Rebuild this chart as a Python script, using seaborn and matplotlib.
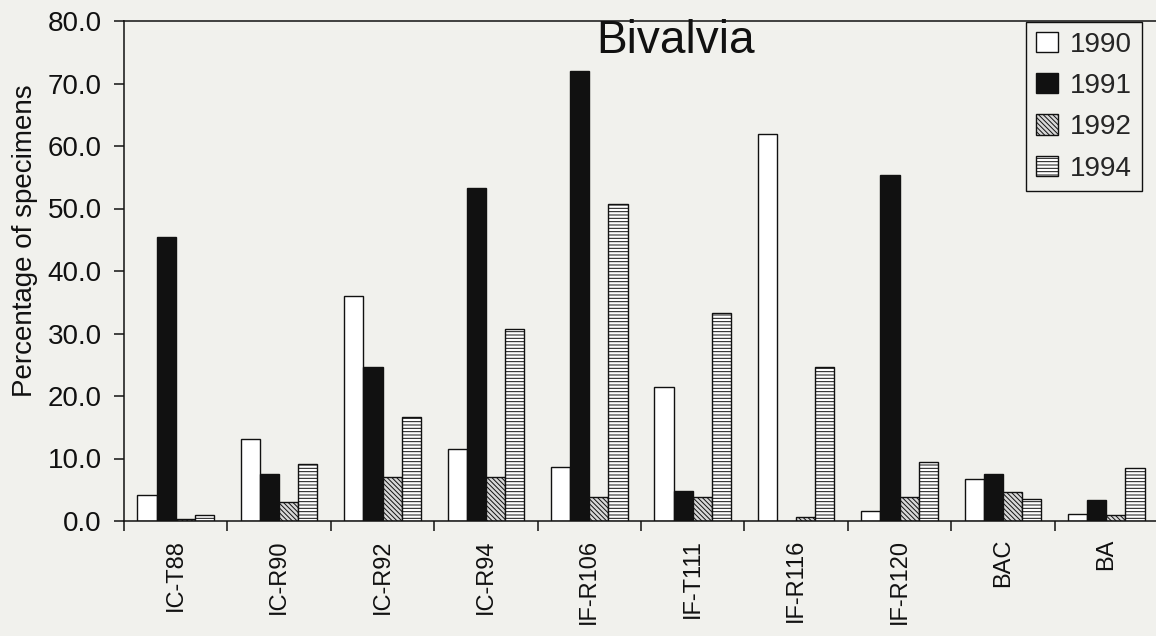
import numpy as np
import pandas as pd
import matplotlib
matplotlib.use("Agg")
import matplotlib.pyplot as plt
from matplotlib.patches import Patch
from matplotlib.ticker import FormatStrFormatter, FixedLocator
import seaborn as sns

# Sampling sites and survey years
sites = ["IC-T88", "IC-R90", "IC-R92", "IC-R94", "IF-R106",
         "IF-T111", "IF-R116", "IF-R120", "BAC", "BA"]
years = ["1990", "1991", "1992", "1994"]

# Percentage of bivalve specimens per site and year
pct_1990 = [4.2, 13.2, 36.0, 11.5, 8.6, 21.5, 61.9, 1.6, 6.8, 1.2]
pct_1991 = [45.4, 7.6, 24.7, 53.3, 72.0, 4.8, 0.0, 55.4, 7.6, 3.3]
pct_1992 = [0.4, 3.0, 7.0, 7.1, 3.9, 3.8, 0.7, 3.8, 4.6, 1.0]
pct_1994 = [1.0, 9.2, 16.7, 30.8, 50.7, 33.3, 24.7, 9.5, 3.6, 8.5]

df = pd.DataFrame({
    "site": sites * 4,
    "year": [y for y in years for _ in sites],
    "pct": pct_1990 + pct_1991 + pct_1992 + pct_1994,
})

paper = "#f1f1ed"
ink = "#111111"
sns.set_theme(style="ticks")
plt.rcParams["font.family"] = ["Liberation Sans", "DejaVu Sans"]
plt.rcParams["hatch.linewidth"] = 0.7
plt.rcParams["hatch.color"] = "#222222"

fills = {"1990": "white", "1991": ink, "1992": "#d8d8d8", "1994": "white"}
hatches = {"1990": "", "1991": "", "1992": "\\\\\\\\\\\\\\", "1994": "-----"}

fig = plt.figure(figsize=(11.56, 6.36), dpi=100, facecolor=paper)
ax = fig.add_axes([124 / 1156, 1 - 521 / 636, 1034 / 1156, 500 / 636])
ax.set_facecolor(paper)

sns.barplot(data=df, x="site", y="pct", hue="year", order=sites,
            hue_order=years, palette=fills, edgecolor=ink,
            linewidth=1.0, width=0.74, gap=0, dodge=True,
            saturation=1, legend=False, ax=ax)

for year, container in zip(years, ax.containers):
    for bar in container:
        bar.set_hatch(hatches[year])

ax.set_xlim(-0.5, len(sites) - 0.5)
ax.set_ylim(0, 80)
ax.set_yticks(np.arange(0, 81, 10))
ax.yaxis.set_major_formatter(FormatStrFormatter("%.1f"))
ax.tick_params(axis="y", direction="out", length=7, width=1.1,
               labelsize=20, pad=9, colors=ink)
ax.tick_params(axis="x", which="major", length=0, labelsize=17,
               pad=13, labelrotation=90, colors=ink)
ax.xaxis.set_minor_locator(FixedLocator(np.arange(-0.5, len(sites), 1.0)))
ax.tick_params(axis="x", which="minor", direction="out", length=7,
               width=1.1, color=ink)

ax.set_xlabel("")
ax.set_ylabel("Percentage of specimens", fontsize=20, color=ink)
ax.yaxis.set_label_coords(-0.083, 0.56)

for side in ["left", "bottom", "top", "right"]:
    ax.spines[side].set_visible(True)
    ax.spines[side].set_linewidth(1.1)
    ax.spines[side].set_color(ink)

ax.text(0.533, 0.936, "Bivalvia", transform=ax.transAxes,
        ha="center", va="baseline", fontsize=33, color=ink)

handles = [Patch(facecolor=fills[y], edgecolor=ink, hatch=hatches[y],
                 linewidth=1.0, label=y) for y in years]
leg = ax.legend(handles=handles, loc="upper right",
                bbox_to_anchor=(0.9845, 0.998), fontsize=20,
                frameon=True, fancybox=False, framealpha=1,
                facecolor=paper, edgecolor=ink,
                handlelength=0.8, handleheight=0.75, handletextpad=0.45,
                labelspacing=0.55, borderpad=0.35, borderaxespad=0)
leg.get_frame().set_linewidth(1.0)

fig.savefig("out.png", dpi=100, facecolor=paper)
